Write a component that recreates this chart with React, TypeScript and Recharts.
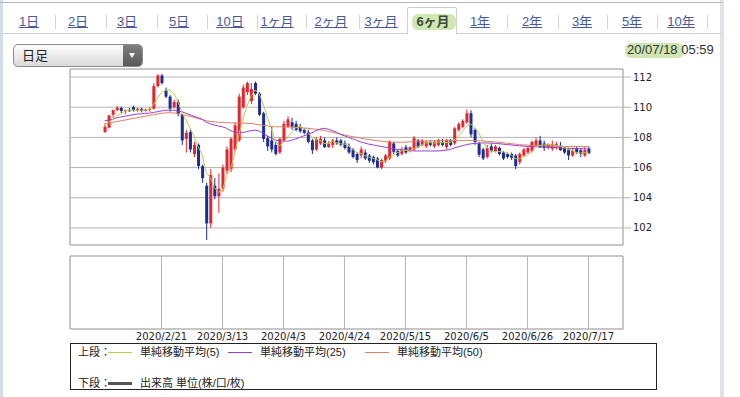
import {
  ComposedChart,
  Bar,
  Line,
  XAxis,
  YAxis,
  CartesianGrid,
  ReferenceArea,
} from 'recharts'

// empty days at both ends of the date axis
const PAD_BEFORE = ['2020/1/22', '2020/1/23', '2020/1/24', '2020/1/27', '2020/1/28', '2020/1/29', '2020/1/30', '2020/1/31']
const PAD_AFTER = ['2020/7/20', '2020/7/21', '2020/7/22', '2020/7/23', '2020/7/24', '2020/7/27', '2020/7/28', '2020/7/29']

const DATES = [
  '2020/2/3', '2020/2/4', '2020/2/5', '2020/2/6', '2020/2/7', '2020/2/10', '2020/2/11', '2020/2/12', '2020/2/13', '2020/2/14',
  '2020/2/17', '2020/2/18', '2020/2/19', '2020/2/20', '2020/2/21', '2020/2/24', '2020/2/25', '2020/2/26', '2020/2/27', '2020/2/28',
  '2020/3/2', '2020/3/3', '2020/3/4', '2020/3/5', '2020/3/6', '2020/3/9', '2020/3/10', '2020/3/11', '2020/3/12', '2020/3/13',
  '2020/3/16', '2020/3/17', '2020/3/18', '2020/3/19', '2020/3/20', '2020/3/23', '2020/3/24', '2020/3/25', '2020/3/26', '2020/3/27',
  '2020/3/30', '2020/3/31', '2020/4/1', '2020/4/2', '2020/4/3', '2020/4/6', '2020/4/7', '2020/4/8', '2020/4/9', '2020/4/10',
  '2020/4/13', '2020/4/14', '2020/4/15', '2020/4/16', '2020/4/17', '2020/4/20', '2020/4/21', '2020/4/22', '2020/4/23', '2020/4/24',
  '2020/4/27', '2020/4/28', '2020/4/29', '2020/4/30', '2020/5/1', '2020/5/4', '2020/5/5', '2020/5/6', '2020/5/7', '2020/5/8',
  '2020/5/11', '2020/5/12', '2020/5/13', '2020/5/14', '2020/5/15', '2020/5/18', '2020/5/19', '2020/5/20', '2020/5/21', '2020/5/22',
  '2020/5/25', '2020/5/26', '2020/5/27', '2020/5/28', '2020/5/29', '2020/6/1', '2020/6/2', '2020/6/3', '2020/6/4', '2020/6/5',
  '2020/6/8', '2020/6/9', '2020/6/10', '2020/6/11', '2020/6/12', '2020/6/15', '2020/6/16', '2020/6/17', '2020/6/18', '2020/6/19',
  '2020/6/22', '2020/6/23', '2020/6/24', '2020/6/25', '2020/6/26', '2020/6/29', '2020/6/30', '2020/7/1', '2020/7/2', '2020/7/3',
  '2020/7/6', '2020/7/7', '2020/7/8', '2020/7/9', '2020/7/10', '2020/7/13', '2020/7/14', '2020/7/15', '2020/7/16', '2020/7/17',
]

const OPEN = [
  108.35, 108.65, 109.5, 109.8, 109.95, 109.75, 109.8, 110.0, 109.8, 109.9,
  109.75, 109.85, 109.9, 111.4, 112.1, 111.1, 110.7, 110.0, 110.35, 109.5,
  107.9, 108.35, 106.9, 107.5, 106.1, 104.8, 102.3, 104.8, 104.1, 104.6,
  105.8, 105.9, 107.2, 107.8, 110.0, 111.0, 110.4, 111.6, 110.9, 109.6,
  107.95, 107.8, 107.5, 107.0, 107.8, 108.7, 109.0, 108.9, 108.7, 108.5,
  108.35, 107.8, 107.2, 107.6, 107.8, 107.35, 107.5, 107.8, 107.8, 107.6,
  107.4, 107.2, 106.9, 106.8, 107.0, 106.8, 106.7, 106.6, 106.0, 106.45,
  106.6, 107.6, 107.1, 106.9, 107.35, 107.1, 107.2, 107.8, 107.5, 107.4,
  107.7, 107.4, 107.5, 107.7, 107.35, 107.8, 107.6, 108.5, 108.7, 109.0,
  109.6, 108.5, 107.6, 107.2, 106.7, 107.4, 107.1, 107.3, 107.0, 106.9,
  106.9, 106.8, 106.35, 106.8, 107.0, 107.1, 107.5, 107.8, 107.6, 107.3,
  107.25, 107.35, 107.45, 107.3, 107.2, 106.8, 107.25, 107.15, 106.8, 107.25,
]
const HIGH = [
  108.9, 109.5, 109.85, 110.1, 110.05, 109.85, 109.95, 110.1, 109.95, 109.95,
  109.9, 110.0, 111.6, 112.2, 112.2, 111.3, 110.8, 110.5, 110.5, 109.6,
  108.5, 108.5, 107.7, 107.6, 106.2, 105.0, 105.9, 105.3, 105.6, 106.2,
  107.4, 108.0, 109.0, 110.9, 111.5, 111.7, 111.6, 111.7, 111.0, 109.7,
  108.1, 108.7, 107.7, 108.0, 109.1, 109.4, 109.3, 109.1, 108.9, 108.6,
  108.5, 107.9, 108.0, 108.1, 108.0, 107.75, 107.9, 108.0, 107.9, 107.8,
  107.6, 107.3, 107.0, 107.4, 107.2, 106.9, 106.8, 106.7, 106.6, 106.9,
  107.8, 107.7, 107.2, 107.4, 107.5, 107.4, 108.1, 107.9, 107.9, 107.8,
  107.8, 107.8, 107.9, 107.9, 107.9, 107.9, 108.7, 109.0, 109.2, 109.85,
  109.8, 108.6, 107.7, 107.3, 107.5, 107.6, 107.5, 107.4, 107.1, 107.0,
  107.0, 106.9, 107.0, 107.3, 107.4, 107.8, 108.0, 108.1, 107.8, 107.6,
  107.8, 107.7, 107.7, 107.4, 107.3, 107.3, 107.4, 107.3, 107.4, 107.4,
]
const LOW = [
  108.3, 108.6, 109.3, 109.75, 109.6, 109.55, 109.7, 109.7, 109.7, 109.65,
  109.7, 109.7, 109.85, 111.3, 111.5, 110.6, 109.7, 109.9, 109.4, 107.5,
  107.0, 107.0, 106.7, 105.9, 105.0, 101.2, 102.0, 103.9, 103.0, 104.4,
  105.6, 105.7, 107.0, 107.7, 109.9, 110.8, 110.2, 110.8, 109.4, 107.7,
  107.1, 107.0, 106.8, 106.9, 107.7, 108.6, 108.5, 108.4, 108.3, 108.2,
  107.6, 106.9, 107.1, 107.5, 107.3, 107.3, 107.3, 107.5, 107.4, 107.2,
  106.9, 106.6, 106.3, 106.6, 106.5, 106.3, 106.2, 105.95, 105.9, 106.3,
  106.5, 106.9, 106.7, 106.8, 106.9, 107.0, 107.1, 107.3, 107.4, 107.3,
  107.4, 107.3, 107.4, 107.4, 107.2, 107.4, 107.5, 108.4, 108.6, 108.9,
  108.0, 107.5, 106.7, 106.5, 106.6, 107.0, 107.0, 106.8, 106.5, 106.6,
  106.5, 105.9, 106.2, 106.7, 106.9, 107.0, 107.4, 107.3, 107.1, 107.2,
  107.1, 107.2, 107.1, 106.9, 106.5, 106.7, 106.9, 106.7, 106.7, 106.9,
]
const CLOSE = [
  108.7, 109.45, 109.8, 109.95, 109.75, 109.8, 109.75, 109.8, 109.9, 109.75,
  109.85, 109.9, 111.4, 112.1, 111.6, 110.7, 109.9, 110.35, 109.55, 107.8,
  108.3, 107.2, 107.5, 106.1, 105.3, 102.3, 105.5, 104.1, 104.6, 106.0,
  107.2, 107.9, 108.8, 110.7, 111.3, 111.6, 111.2, 110.9, 109.5, 107.9,
  107.4, 107.2, 106.9, 107.9, 108.9, 109.2, 108.7, 108.5, 108.4, 108.3,
  107.7, 107.15, 107.9, 107.9, 107.35, 107.6, 107.8, 107.6, 107.5, 107.3,
  107.0, 106.7, 106.5, 107.2, 106.6, 106.45, 106.35, 106.0, 106.5, 106.8,
  107.7, 107.05, 106.8, 107.2, 107.0, 107.35, 107.95, 107.35, 107.8, 107.7,
  107.5, 107.7, 107.8, 107.5, 107.8, 107.5, 108.6, 108.9, 109.1, 109.6,
  108.2, 107.7, 106.85, 106.6, 107.3, 107.1, 107.4, 106.9, 106.6, 106.7,
  106.65, 106.1, 106.9, 107.2, 107.3, 107.7, 107.8, 107.35, 107.3, 107.55,
  107.55, 107.55, 107.15, 107.0, 106.8, 107.1, 107.0, 106.9, 107.15, 106.95,
]

// moving averages
const MA5 = [
  108.9, 109.0, 109.2, 109.45, 109.53, 109.75, 109.81, 109.81, 109.8, 109.8,
  109.81, 109.84, 110.16, 110.6, 110.97, 111.14, 111.14, 110.93, 110.42, 109.66,
  109.18, 108.64, 108.07, 107.38, 106.88, 105.68, 105.34, 104.66, 104.36, 104.5,
  105.48, 105.96, 106.9, 108.12, 109.18, 110.06, 110.72, 111.14, 110.9, 110.22,
  109.38, 108.58, 107.78, 107.46, 107.66, 108.02, 108.32, 108.64, 108.74, 108.62,
  108.32, 108.01, 107.89, 107.79, 107.6, 107.58, 107.71, 107.65, 107.57, 107.56,
  107.44, 107.22, 107.0, 106.94, 106.8, 106.69, 106.62, 106.52, 106.38, 106.42,
  106.67, 106.81, 106.97, 107.11, 107.15, 107.08, 107.26, 107.37, 107.49, 107.63,
  107.66, 107.61, 107.7, 107.64, 107.66, 107.66, 107.84, 108.06, 108.38, 108.74,
  108.88, 108.7, 108.29, 107.79, 107.33, 107.11, 107.05, 107.06, 107.06, 106.94,
  106.85, 106.59, 106.59, 106.71, 106.83, 107.04, 107.38, 107.47, 107.49, 107.54,
  107.51, 107.46, 107.42, 107.36, 107.21, 107.12, 107.01, 106.96, 106.99, 107.02,
]
const MA25 = [
  109.1, 109.15, 109.2, 109.3, 109.35, 109.4, 109.45, 109.5, 109.55, 109.55,
  109.6, 109.6, 109.65, 109.7, 109.75, 109.8, 109.8, 109.8, 109.75, 109.7,
  109.6, 109.5, 109.4, 109.3, 109.2, 109.0, 108.9, 108.82, 108.75, 108.7,
  108.6, 108.45, 108.35, 108.32, 108.32, 108.38, 108.45, 108.48, 108.42, 108.28,
  108.1, 107.95, 107.82, 107.76, 107.75, 107.75, 107.8, 107.9, 108.0, 108.1,
  108.2, 108.3, 108.45, 108.55, 108.6, 108.55, 108.45, 108.35, 108.2, 108.1,
  108.0, 107.9, 107.8, 107.7, 107.62, 107.55, 107.5, 107.45, 107.4, 107.35,
  107.3, 107.25, 107.2, 107.18, 107.15, 107.12, 107.1, 107.1, 107.1, 107.1,
  107.1, 107.1, 107.1, 107.12, 107.15, 107.2, 107.3, 107.38, 107.45, 107.52,
  107.57, 107.6, 107.62, 107.63, 107.63, 107.62, 107.6, 107.58, 107.55, 107.52,
  107.5, 107.46, 107.44, 107.42, 107.4, 107.4, 107.38, 107.37, 107.36, 107.35,
  107.34, 107.32, 107.3, 107.29, 107.28, 107.27, 107.26, 107.25, 107.24, 107.23,
]
const MA50 = [
  108.9, 108.95, 109.0, 109.05, 109.1, 109.15, 109.2, 109.25, 109.3, 109.35,
  109.4, 109.45, 109.5, 109.55, 109.6, 109.62, 109.63, 109.62, 109.58, 109.52,
  109.46, 109.4, 109.32, 109.25, 109.18, 109.1, 109.06, 109.03, 109.0, 108.98,
  108.97, 108.96, 108.95, 108.95, 108.95, 108.94, 108.92, 108.88, 108.84, 108.8,
  108.76, 108.72, 108.7, 108.7, 108.7, 108.7, 108.68, 108.66, 108.64, 108.62,
  108.6, 108.57, 108.54, 108.5, 108.46, 108.4, 108.34, 108.28, 108.22, 108.16,
  108.1, 108.05, 108.0, 107.95, 107.9, 107.86, 107.82, 107.78, 107.75, 107.72,
  107.7, 107.69, 107.68, 107.68, 107.68, 107.7, 107.72, 107.73, 107.75, 107.76,
  107.77, 107.78, 107.79, 107.8, 107.8, 107.8, 107.8, 107.8, 107.8, 107.8,
  107.8, 107.8, 107.78, 107.76, 107.74, 107.72, 107.7, 107.67, 107.64, 107.61,
  107.58, 107.55, 107.52, 107.5, 107.48, 107.47, 107.46, 107.45, 107.44, 107.43,
  107.42, 107.41, 107.4, 107.4, 107.4, 107.4, 107.4, 107.4, 107.4, 107.4,
]

const X_TICKS = ['2020/2/21', '2020/3/13', '2020/4/3', '2020/4/24', '2020/5/15', '2020/6/5', '2020/6/26', '2020/7/17']
const Y_TICKS = [102, 104, 106, 108, 110, 112]
const Y_MIN = 100.87
const Y_MAX = 112.53

const TABS = ['1日', '2日', '3日', '5日', '10日', '1ヶ月', '2ヶ月', '3ヶ月', '6ヶ月', '1年', '2年', '3年', '5年', '10年']
const TAB_CENTERS = [29, 78, 127, 179, 230, 277, 331, 381, 433, 480, 532, 582, 632, 681]
const TAB_SEPARATORS = [55, 106, 157, 207, 257, 306, 359, 507, 558, 607, 657, 707]
const ACTIVE_TAB = '6ヶ月'

const MA_COLORS = { ma5: '#bccb4a', ma25: '#9b3fd0', ma50: '#e07c62' }
const UP = '#e3262f'
const DOWN = '#1d2d92'
const GRID = '#b4b4b4'

const rows = [
  ...PAD_BEFORE.map((date) => ({ date })),
  ...DATES.map((date, i) => ({
    date,
    open: OPEN[i],
    high: HIGH[i],
    low: LOW[i],
    close: CLOSE[i],
    range: [LOW[i], HIGH[i]],
    ma5: MA5[i],
    ma25: MA25[i],
    ma50: MA50[i],
  })),
  ...PAD_AFTER.map((date) => ({ date })),
]

function Candle(props: any) {
  const { x, y, width, height, payload } = props
  if (!payload || payload.open == null || y == null) return <g />
  const top = Math.min(y, y + height)
  const h = Math.abs(height)
  const { open, close, high, low } = payload
  const toY = (v: number) => (high === low ? top : top + ((high - v) / (high - low)) * h)
  const color = close >= open ? UP : DOWN
  const cx = x + width / 2
  const bodyTop = toY(Math.max(open, close))
  const bodyH = Math.max(1, toY(Math.min(open, close)) - bodyTop)
  return (
    <g>
      <line x1={cx} x2={cx} y1={top} y2={top + h} stroke={color} strokeWidth={1} />
      <rect x={x} y={bodyTop} width={width} height={bodyH} fill={color} />
    </g>
  )
}

const axisFont = { fontSize: 10, fill: '#222', fontFamily: '"DejaVu Sans", sans-serif' }

function Tabs() {
  return (
    <>
      <div style={{ position: 'absolute', left: 0, top: 2, width: 722, height: 1, background: '#b8b8b8' }} />
      <div style={{ position: 'absolute', left: 0, top: 33, width: 407, height: 1, background: '#d0d0d0' }} />
      <div style={{ position: 'absolute', left: 457, top: 33, width: 265, height: 1, background: '#d0d0d0' }} />
      <div
        style={{
          position: 'absolute',
          left: 407,
          top: 7,
          width: 50,
          height: 27,
          boxSizing: 'border-box',
          border: '1px solid #d0d0d0',
          borderBottom: 'none',
          background: '#fff',
          borderRadius: '2px 2px 0 0',
        }}
      />
      <div style={{ position: 'absolute', left: 412, top: 14, width: 44, height: 16, background: 'rgba(176,214,128,0.6)', borderRadius: 6 }} />
      {TAB_SEPARATORS.map((x) => (
        <div key={x} style={{ position: 'absolute', left: x, top: 15, width: 1, height: 14, background: '#d4d4d4' }} />
      ))}
      {TABS.map((t, i) => {
        const active = t === ACTIVE_TAB
        return (
          <span
            key={t}
            style={{
              position: 'absolute',
              left: TAB_CENTERS[i],
              top: 14,
              transform: 'translateX(-50%)',
              fontSize: 13,
              lineHeight: '16px',
              whiteSpace: 'nowrap',
              color: active ? '#3a4a3a' : '#4a5a98',
              fontWeight: active ? 'bold' : 'normal',
              textDecoration: active ? 'none' : 'underline',
            }}
          >
            {t}
          </span>
        )
      })}
    </>
  )
}

function Dropdown() {
  return (
    <div
      style={{
        position: 'absolute',
        left: 13,
        top: 44,
        width: 130,
        height: 23,
        boxSizing: 'border-box',
        border: '1px solid #8c8c8c',
        borderRadius: 5,
        background: 'linear-gradient(#fdfdfd, #dadada)',
        overflow: 'hidden',
      }}
    >
      <span style={{ position: 'absolute', left: 8, top: 2, fontSize: 13, lineHeight: '17px', color: '#222' }}>日足</span>
      <div style={{ position: 'absolute', right: 0, top: 0, width: 19, height: 21, background: 'linear-gradient(#808080, #585858)' }}>
        <div
          style={{
            position: 'absolute',
            left: 6,
            top: 8,
            width: 0,
            height: 0,
            borderLeft: '3.5px solid transparent',
            borderRight: '3.5px solid transparent',
            borderTop: '5px solid #fff',
          }}
        />
      </div>
    </div>
  )
}

function Legend() {
  const item = (color: string, label: string, left: number, top: number, thick = 1) => (
    <>
      <div style={{ position: 'absolute', left, top: top - thick / 2, width: 24, height: thick, background: color }} />
      <span style={{ position: 'absolute', left: left + 32, top: top - 8, fontSize: 11, lineHeight: '16px', color: '#222', whiteSpace: 'nowrap' }}>
        {label}
      </span>
    </>
  )
  return (
    <div style={{ position: 'absolute', left: 70, top: 343, width: 587, height: 47, boxSizing: 'border-box', border: '1px solid #222' }}>
      <span style={{ position: 'absolute', left: 7, top: 0, fontSize: 11, lineHeight: '16px', color: '#222' }}>上段：</span>
      {item(MA_COLORS.ma5, '単純移動平均(5)', 37, 8)}
      {item(MA_COLORS.ma25, '単純移動平均(25)', 157, 8)}
      {item(MA_COLORS.ma50, '単純移動平均(50)', 294, 8)}
      <span style={{ position: 'absolute', left: 7, top: 31, fontSize: 11, lineHeight: '16px', color: '#222' }}>下段：</span>
      {item('#555', '出来高 単位(株/口/枚)', 37, 39, 3)}
    </div>
  )
}

export default function App() {
  return (
    <div
      style={{
        position: 'fixed',
        left: 0,
        top: 0,
        width: 740,
        height: 397,
        background: '#fff',
        fontFamily: '"Liberation Sans", "Noto Sans CJK JP", sans-serif',
        overflow: 'hidden',
      }}
    >
      <div style={{ position: 'absolute', left: 0, top: 0, width: 3, height: 397, background: '#d6dbe6' }} />
      <div style={{ position: 'absolute', left: 720, top: 0, width: 4, height: 397, background: '#e0e3ec' }} />
      <Tabs />
      <Dropdown />
      <div style={{ position: 'absolute', left: 625, top: 43, width: 59, height: 15, background: 'rgba(176,214,128,0.6)', borderRadius: 6 }} />
      <span style={{ position: 'absolute', left: 627, top: 42, fontSize: 13, lineHeight: '16px', color: '#333', whiteSpace: 'nowrap' }}>
        20/07/18 05:59
      </span>

      <div style={{ position: 'absolute', left: 0, top: 60 }}>
        <ComposedChart width={680} height={186} data={rows} margin={{ top: 9, right: 12, bottom: 0, left: 70 }}>
          <CartesianGrid stroke={GRID} />
          <ReferenceArea y1={Y_MIN} y2={Y_MAX} fill="none" stroke={GRID} ifOverflow="visible" />
          <XAxis dataKey="date" ticks={X_TICKS} interval={0} tick={false} tickLine={false} axisLine={false} height={1} />
          <YAxis
            orientation="right"
            domain={[Y_MIN, Y_MAX]}
            ticks={Y_TICKS}
            allowDataOverflow
            width={45}
            tickSize={8}
            tickMargin={2}
            axisLine={false}
            tickLine={{ stroke: GRID }}
            tick={axisFont}
          />
          <Bar dataKey="range" barSize={3} shape={(p: any) => <Candle {...p} />} isAnimationActive={false} />
          <Line type="linear" dataKey="ma50" stroke={MA_COLORS.ma50} strokeWidth={1} dot={false} isAnimationActive={false} />
          <Line type="linear" dataKey="ma25" stroke={MA_COLORS.ma25} strokeWidth={1} dot={false} isAnimationActive={false} />
          <Line type="linear" dataKey="ma5" stroke={MA_COLORS.ma5} strokeWidth={1} dot={false} isAnimationActive={false} />
        </ComposedChart>
      </div>

      <div style={{ position: 'absolute', left: 0, top: 250 }}>
        <ComposedChart width={680} height={101} data={rows} margin={{ top: 6, right: 12, bottom: 0, left: 70 }}>
          <CartesianGrid stroke={GRID} />
          <ReferenceArea y1={0} y2={1} fill="none" stroke={GRID} ifOverflow="visible" />
          <XAxis
            dataKey="date"
            ticks={X_TICKS}
            interval={0}
            height={22}
            tickLine={false}
            axisLine={false}
            tickSize={2}
            tickMargin={2}
            tick={axisFont}
          />
          <YAxis
            orientation="right"
            width={45}
            domain={[0, 1]}
            ticks={[0, 1]}
            allowDataOverflow
            tick={false}
            tickLine={false}
            axisLine={false}
          />
          <Bar dataKey="volume" isAnimationActive={false} />
        </ComposedChart>
      </div>

      <Legend />
    </div>
  )
}
